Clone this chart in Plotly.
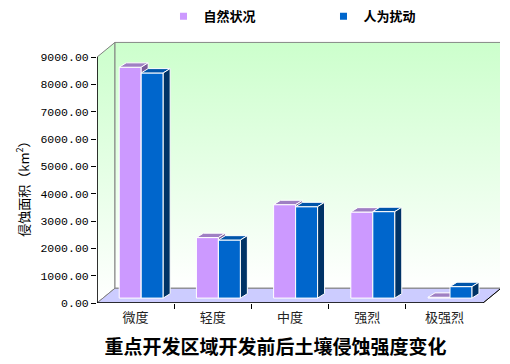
import plotly.graph_objects as go

categories = ["微度", "轻度", "中度", "强烈", "极强烈"]
series_names = ["自然状况", "人为扰动"]
natural = [8450, 2215, 3420, 3150, 30]
disturbed = [8240, 2125, 3345, 3165, 420]
y_ticks = [0, 1000, 2000, 3000, 4000, 5000, 6000, 7000, 8000, 9000]

front_colors = ["#CC99FF", "#0066CC"]
top_colors = ["#9F7FC3", "#0055AA"]
side_colors = ["#7A5C99", "#003366"]

# pseudo-3D geometry (data units)
D, DY = 0.233, 540.0        # wall depth
dx0, dy0 = D / 3, DY / 3    # bar plane offset
bdx, bdy = 0.09, 160.0      # bar depth
a, w = 0.21, 0.285          # bar offset / width within category
XMAX, YMAX = 5.22, 9576

fig = go.Figure()

# walls
fig.add_trace(go.Scatter(x=[0, 0, D, D, 0], y=[0, 9000, 9000 + DY, DY, 0], fill="toself",
                         mode="lines", line=dict(color="#808080", width=1),
                         fillgradient=dict(type="vertical", colorscale=[[0, "#FFFFFF"], [1, "#CCFFCC"]]),
                         showlegend=False, hoverinfo="skip"))
fig.add_trace(go.Scatter(x=[D, 5 + D, 5 + D, D, D], y=[DY, DY, 9000 + DY, 9000 + DY, DY], fill="toself",
                         mode="lines", line=dict(color="#808080", width=1),
                         fillgradient=dict(type="vertical", colorscale=[[0, "#FFFFFF"], [1, "#CCFFCC"]]),
                         showlegend=False, hoverinfo="skip"))
fig.add_trace(go.Scatter(x=[0, 5, 5 + D, D, 0], y=[0, 0, DY, DY, 0], fill="toself",
                         mode="lines", line=dict(color="#808080", width=1), fillcolor="#CCCCFF",
                         showlegend=False, hoverinfo="skip"))

for s, vals in enumerate([natural, disturbed]):
    fx, fy, tx, ty, sx, sy = [], [], [], [], [], []
    for i, v in enumerate(vals):
        x0 = i + dx0 + a + s * w
        x1 = x0 + w
        b = dy0
        t = dy0 + v
        fx += [x0, x1, x1, x0, x0, None]
        fy += [b, b, t, t, b, None]
        tx += [x0, x1, x1 + bdx, x0 + bdx, x0, None]
        ty += [t, t, t + bdy, t + bdy, t, None]
        sx += [x1, x1 + bdx, x1 + bdx, x1, x1, None]
        sy += [b, b + bdy, t + bdy, t, b, None]
    for xs, ys, col in [(fx, fy, front_colors[s]), (tx, ty, top_colors[s]), (sx, sy, side_colors[s])]:
        fig.add_trace(go.Scatter(x=xs, y=ys, fill="toself", fillcolor=col, mode="lines",
                                 line=dict(color="white", width=1), showlegend=False, hoverinfo="skip"))

# legend entries
for s in range(2):
    fig.add_trace(go.Scatter(x=[None], y=[None], mode="markers", name=series_names[s],
                             marker=dict(symbol="square", size=7, color=front_colors[s]),
                             xaxis="x2"))

# axis lines
fig.add_shape(type="line", x0=0, y0=0, x1=5, y1=0, line=dict(color="black", width=1.5))
fig.add_shape(type="line", x0=0, y0=0, x1=0, y1=9000, line=dict(color="black", width=1.5))
fig.add_shape(type="line", x0=5, y0=0, x1=5 + D, y1=DY, line=dict(color="black", width=1))

fig.add_annotation(text="侵蚀面积（km<sup>2</sup>）", xref="paper", yref="paper",
                   x=-0.185, y=0.45, xanchor="center", yanchor="middle",
                   textangle=-90, showarrow=False,
                   font=dict(family="Noto Sans CJK SC", size=13, color="black"))

fig.update_layout(
    width=510, height=364,
    margin=dict(l=97, r=10, t=37, b=61),
    paper_bgcolor="white", plot_bgcolor="white",
    font=dict(family="Noto Sans CJK SC", size=12, color="black"),
    title=dict(text="<b>重点开发区域开发前后土壤侵蚀强度变化</b>", x=0.54, xanchor="center",
               y=0.045, yanchor="middle", font=dict(size=19, color="black")),
    xaxis=dict(range=[0, XMAX], tickvals=[1, 2, 3, 4], showticklabels=False,
               ticks="outside", ticklen=5, tickcolor="black", showline=False,
               showgrid=False, zeroline=False, fixedrange=True),
    xaxis2=dict(range=[0, XMAX], overlaying="x", side="bottom", anchor="y",
                tickvals=[i + 0.5 for i in range(5)], ticktext=categories, ticks="",
                ticklabelstandoff=5,
                showgrid=False, zeroline=False, showline=False,
                tickfont=dict(size=13, color="#222222")),
    yaxis=dict(range=[0, YMAX], tickvals=y_ticks, tickformat=".2f", ticks="outside",
               ticklen=5, tickcolor="black", showline=False, showgrid=False, zeroline=False,
               tickfont=dict(family="Liberation Mono", size=11.5, color="black")),
    legend=dict(orientation="h", x=0.165, xanchor="left", yref="container", y=0.955, yanchor="middle",
                entrywidth=115, font=dict(size=13, color="black", weight="bold"),
                bgcolor="rgba(0,0,0,0)"),
    showlegend=True,
)

fig.write_html("out.html")
